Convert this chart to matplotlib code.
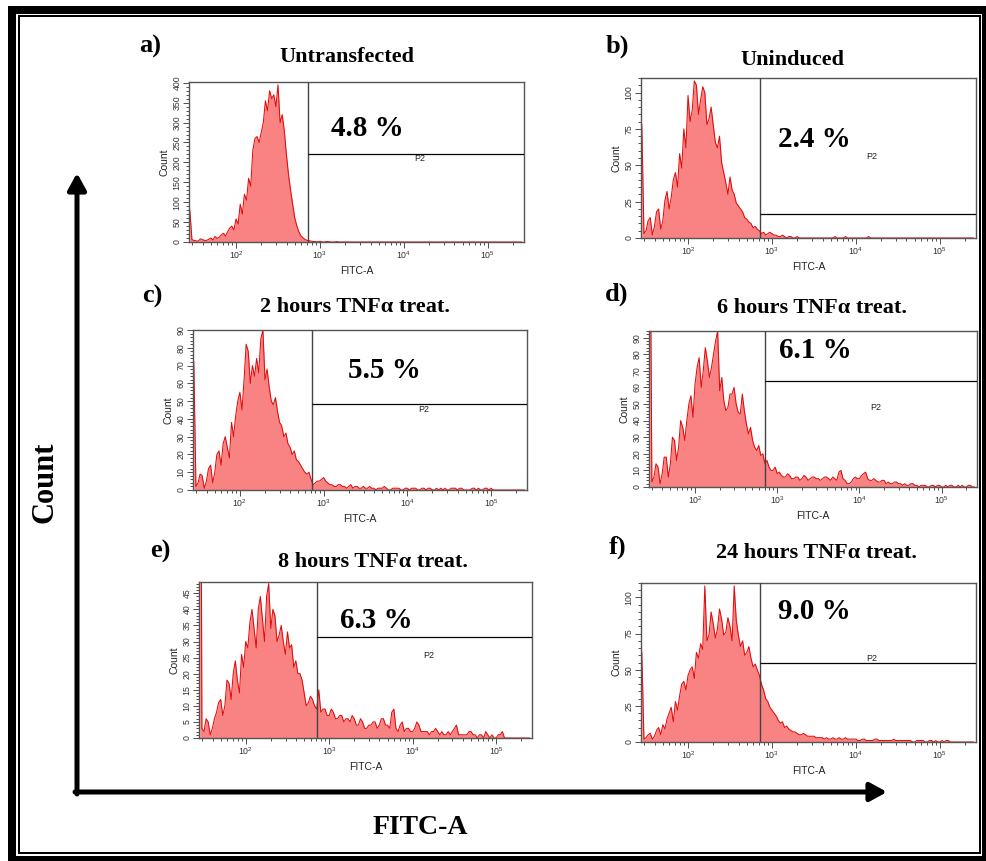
#!/usr/bin/env python3
"""Six FITC-A flow cytometry histograms (TNF-alpha time course) -> out.png."""
import numpy as np
import matplotlib
matplotlib.use("Agg")
import matplotlib.pyplot as plt
from matplotlib.lines import Line2D
from matplotlib.patches import FancyArrowPatch
from matplotlib.ticker import MultipleLocator, LogLocator

W, H = 987, 861
SERIF = "Liberation Serif"
SANS = "Liberation Sans"
FILL = "#f98282"
EDGE = "#e00c0c"

# bin centres on the log10(FITC-A) axis, 0.025 decade wide (1.45 .. 5.40)
LOG_BINS = np.round(np.arange(1.45, 5.4001, 0.025), 3)

# counts per bin (rows of 20 bins = half a decade)
COUNTS_A = [80, 6, 4, 3, 2, 8, 6, 4, 4, 7, 10, 5, 14, 9, 12, 18, 22, 15, 26, 35,
            40, 30, 58, 45, 95, 70, 120, 105, 160, 140, 230, 260, 265, 250, 275, 300, 355, 330, 380, 360,
            370, 340, 395, 300, 320, 280, 220, 170, 130, 95, 60, 40, 25, 15, 10, 6, 4, 3, 2, 1,
            1, 0, 2, 0, 0, 1, 1, 0, 0, 0, 1, 0, 0, 0, 0, 0, 0, 0, 0, 0,
            0, 0, 0, 0, 0, 0, 0, 0, 0, 0, 0, 0, 0, 0, 0, 0, 0, 0, 0, 0,
            0, 0, 0, 0, 0, 0, 0, 0, 0, 0, 0, 0, 0, 0, 0, 0, 0, 0, 0, 0,
            0, 0, 0, 0, 0, 0, 0, 0, 0, 0, 0, 0, 0, 0, 0, 0, 0, 0, 0, 0,
            0, 0, 0, 0, 0, 0, 0, 0, 0, 0, 0, 0, 0, 0, 0, 0, 0, 0, 0]
COUNTS_B = [78, 3, 5, 12, 14, 2, 8, 18, 20, 6, 12, 26, 32, 20, 28, 40, 45, 35, 58, 48,
            75, 62, 98, 80, 88, 108, 105, 85, 95, 104, 100, 78, 82, 90, 78, 66, 62, 70, 52, 45,
            38, 30, 42, 33, 30, 24, 22, 20, 18, 14, 13, 11, 10, 7, 8, 6, 5, 3, 4, 2,
            3, 4, 3, 2, 2, 1, 1, 2, 1, 0, 1, 1, 0, 0, 1, 0, 0, 0, 0, 0,
            0, 0, 0, 0, 0, 0, 0, 0, 0, 0, 0, 0, 1, 0, 0, 0, 0, 1, 0, 0,
            0, 0, 0, 0, 0, 0, 0, 0, 1, 0, 0, 0, 0, 0, 0, 0, 0, 0, 0, 0,
            0, 0, 0, 0, 0, 0, 0, 0, 0, 0, 0, 0, 0, 0, 0, 0, 0, 0, 0, 0,
            0, 0, 0, 0, 0, 0, 0, 0, 0, 0, 0, 0, 0, 0, 0, 0, 0, 0, 0]
COUNTS_C = [72, 2, 4, 9, 8, 1, 5, 12, 14, 4, 10, 20, 22, 14, 26, 30, 24, 18, 38, 30,
            42, 50, 55, 45, 62, 82, 78, 60, 70, 64, 74, 66, 85, 90, 62, 68, 58, 50, 48, 52,
            44, 38, 36, 30, 32, 26, 24, 20, 22, 17, 16, 14, 12, 10, 9, 10, 6, 3, 4, 5,
            5, 6, 7, 5, 4, 3, 3, 2, 2, 3, 3, 2, 2, 1, 2, 3, 1, 2, 2, 1,
            1, 2, 1, 1, 2, 1, 1, 0, 1, 1, 1, 2, 1, 0, 0, 1, 1, 1, 1, 0,
            0, 1, 1, 0, 1, 1, 1, 0, 0, 1, 1, 0, 1, 1, 0, 0, 1, 0, 1, 0,
            1, 0, 0, 1, 1, 1, 0, 1, 1, 0, 0, 0, 0, 1, 1, 0, 1, 0, 0, 1,
            1, 0, 1, 0, 0, 0, 0, 0, 0, 0, 0, 0, 0, 0, 0, 0, 0, 0, 0]
COUNTS_D = [200, 3, 6, 14, 12, 2, 8, 18, 18, 6, 14, 30, 28, 16, 24, 40, 36, 28, 40, 50,
            55, 42, 62, 72, 78, 60, 70, 84, 76, 66, 72, 80, 88, 94, 58, 66, 52, 46, 48, 56,
            56, 60, 50, 45, 44, 56, 46, 38, 32, 36, 28, 24, 22, 25, 19, 20, 14, 16, 12, 10,
            10, 12, 8, 9, 7, 6, 6, 8, 7, 5, 5, 6, 6, 4, 5, 7, 6, 4, 5, 6,
            6, 5, 5, 4, 5, 6, 6, 5, 4, 6, 5, 4, 9, 10, 5, 4, 2, 2, 3, 5,
            6, 5, 5, 7, 8, 9, 5, 4, 4, 5, 4, 3, 3, 4, 4, 2, 3, 2, 2, 3,
            3, 2, 2, 1, 2, 1, 1, 2, 2, 1, 1, 0, 1, 1, 1, 0, 0, 1, 1, 0,
            1, 1, 0, 0, 1, 0, 1, 1, 0, 0, 1, 0, 1, 0, 0, 1, 1, 0, 0]
COUNTS_E = [200, 3, 2, 6, 5, 1, 3, 6, 8, 11, 12, 7, 10, 18, 17, 12, 20, 24, 18, 14,
            26, 22, 30, 28, 36, 40, 34, 28, 40, 44, 37, 30, 44, 48, 34, 40, 38, 30, 32, 35,
            30, 26, 33, 28, 29, 22, 24, 20, 20, 18, 14, 10, 11, 13, 12, 10, 9, 15, 8, 9,
            9, 7, 7, 9, 8, 6, 6, 7, 7, 5, 6, 6, 5, 7, 6, 4, 4, 6, 5, 3,
            3, 4, 4, 5, 5, 3, 4, 6, 6, 4, 4, 3, 8, 9, 3, 2, 4, 5, 2, 3,
            3, 2, 2, 3, 5, 4, 2, 2, 2, 2, 1, 2, 2, 3, 2, 1, 2, 1, 1, 2,
            1, 2, 3, 4, 1, 1, 1, 1, 1, 2, 2, 1, 1, 0, 1, 1, 0, 2, 1, 0,
            1, 0, 0, 1, 1, 2, 0, 0, 0, 0, 0, 0, 0, 0, 0, 0, 0, 0, 0]
COUNTS_F = [62, 2, 3, 5, 6, 2, 4, 8, 10, 5, 12, 9, 16, 20, 24, 14, 28, 22, 32, 40,
            42, 36, 46, 50, 52, 44, 62, 58, 68, 64, 108, 70, 74, 90, 82, 72, 78, 92, 85, 74,
            76, 86, 80, 70, 108, 84, 74, 66, 70, 60, 62, 66, 58, 52, 54, 50, 46, 40, 36, 30,
            28, 24, 22, 20, 18, 15, 13, 14, 10, 11, 9, 8, 7, 7, 6, 5, 5, 6, 5, 4,
            4, 4, 4, 3, 3, 3, 3, 2, 3, 2, 2, 3, 2, 2, 3, 2, 2, 3, 2, 2,
            2, 2, 2, 1, 1, 2, 2, 1, 1, 1, 1, 2, 2, 1, 1, 1, 1, 1, 1, 1,
            2, 1, 1, 1, 1, 1, 1, 1, 1, 0, 0, 1, 1, 1, 1, 0, 0, 1, 1, 0,
            1, 0, 0, 1, 0, 1, 1, 0, 0, 0, 0, 0, 0, 0, 0, 0, 0, 0, 0]

TAGS = ["a)", "b)", "c)", "d)", "e)", "f)"]
TITLES = ["Untransfected", "Uninduced", "2 hours TNF\u03b1 treat.",
          "6 hours TNF\u03b1 treat.", "8 hours TNF\u03b1 treat.",
          "24 hours TNF\u03b1 treat."]
PERCENTS = ["4.8 %", "2.4 %", "5.5 %", "6.1 %", "6.3 %", "9.0 %"]
GATE_LOG = 2.857                      # left edge of the P2 gate (log10)
GATE_LEVEL = [220, 16.5, 48.5, 64, 31.5, 55]
Y_MAX = [402, 110, 90, 94, 48.5, 110]
Y_STEP = [50, 25, 10, 10, 5, 25]

# layout in pixels: axes (left, top, right, bottom), title / tag centres,
# position of the percentage and of the P2 label (log10 x, count)
AXES_PX = [(189, 82, 524, 242), (641, 78, 976, 238), (193, 330, 527, 490),
           (649, 331, 977, 487), (199, 582, 532, 738), (641, 583, 976, 742)]
TITLE_PX = [(347, 57), (792, 60), (355, 307), (812, 308), (373, 562), (817, 553)]
TAG_PX = [(150, 46), (617, 46), (152, 296), (617, 294), (160, 551), (618, 547)]
PCT_POS = [(3.56, 286), (3.50, 68), (3.73, 67), (3.46, 82), (3.56, 36.6), (3.50, 90)]
P2_POS = [(4.19, 210), (4.19, 56), (4.20, 45), (4.20, 48), (4.19, 25.6), (4.19, 57.6)]


def fig_box(l, t, r, b):
    return [l / W, 1 - b / H, (r - l) / W, (b - t) / H]


def fig_line(fig, xs, ys, lw_px):
    fig.add_artist(Line2D([x / W for x in xs], [1 - y / H for y in ys],
                          transform=fig.transFigure, color="black",
                          lw=lw_px * 0.72, solid_capstyle="projecting"))


def main():
    plt.rcParams["font.family"] = [SANS, "DejaVu Sans"]
    fig = plt.figure(figsize=(W / 100, H / 100), dpi=100)

    counts_all = [COUNTS_A, COUNTS_B, COUNTS_C, COUNTS_D, COUNTS_E, COUNTS_F]
    xmin, xmax = 10 ** 1.44, 10 ** 5.43
    gate_x = 10 ** GATE_LOG

    for i, counts in enumerate(counts_all):
        n = min(len(counts), len(LOG_BINS))
        x = 10 ** LOG_BINS[:n]
        y = np.asarray(counts[:n], dtype=float)

        ax = fig.add_axes(fig_box(*AXES_PX[i]))
        ax.fill_between(x, y, 0, color=FILL, lw=0, zorder=1)
        ax.plot(x, y, color=EDGE, lw=0.75, zorder=2)
        ax.set_xscale("log")
        ax.set_xlim(xmin, xmax)
        ax.set_ylim(0, Y_MAX[i])

        ax.axvline(gate_x, color="#444444", lw=1.0, zorder=3)
        ax.hlines(GATE_LEVEL[i], gate_x, xmax, color="black", lw=0.9, zorder=3)

        px, py = PCT_POS[i]
        ax.text(10 ** px, py, PERCENTS[i], family=SERIF, fontweight="bold",
                fontsize=21, ha="center", va="center", zorder=4)
        qx, qy = P2_POS[i]
        ax.text(10 ** qx, qy, "P2", fontsize=6.5, ha="center", va="center",
                color="#222222", zorder=4)

        ax.xaxis.set_major_locator(LogLocator(base=10, numticks=10))
        ax.xaxis.set_minor_locator(LogLocator(base=10, subs=np.arange(2, 10),
                                              numticks=20))
        ax.yaxis.set_major_locator(MultipleLocator(Y_STEP[i]))
        ax.yaxis.set_minor_locator(MultipleLocator(Y_STEP[i] / 5))
        ax.tick_params(which="both", direction="out", colors="#333333",
                       width=0.6, labelsize=6.3, pad=1.5)
        ax.tick_params(which="major", length=4)
        ax.tick_params(which="minor", length=2.2)
        ax.tick_params(axis="y", labelrotation=90)
        for lab in ax.get_yticklabels():
            lab.set_va("center")
        for s in ax.spines.values():
            s.set_color("#555555")
            s.set_linewidth(1.0)
        ax.set_xlabel("FITC-A", fontsize=7.5, labelpad=3, color="#222222")
        ax.set_ylabel("Count", fontsize=7.5, labelpad=2, color="#222222")

        tx, ty = TITLE_PX[i]
        fig.text(tx / W, 1 - ty / H, TITLES[i], family=SERIF, fontweight="bold",
                 fontsize=16, ha="center", va="center")
        gx, gy = TAG_PX[i]
        fig.text(gx / W, 1 - gy / H, TAGS[i], family=SERIF, fontweight="bold",
                 fontsize=19, ha="center", va="center")

    # overall axis arrows
    arrow = "-|>,head_length=10,head_width=5.5"
    fig.add_artist(FancyArrowPatch((77 / W, 1 - 794 / H), (77 / W, 1 - 173 / H),
                                   transform=fig.transFigure, arrowstyle=arrow,
                                   mutation_scale=1, lw=3.6, color="black",
                                   shrinkA=0, shrinkB=0))
    fig.add_artist(FancyArrowPatch((75 / W, 1 - 792 / H), (887 / W, 1 - 792 / H),
                                   transform=fig.transFigure, arrowstyle=arrow,
                                   mutation_scale=1, lw=3.6, color="black",
                                   shrinkA=0, shrinkB=0))
    fig.text(45 / W, 1 - 482 / H, "Count", family=SERIF, fontweight="bold",
             fontsize=22, rotation=90, ha="center", va="center")
    fig.text(420 / W, 1 - 828 / H, "FITC-A", family=SERIF, fontweight="bold",
             fontsize=20, ha="center", va="center")

    # double frame
    fig_line(fig, [12, 12], [10, 857.5], 8)
    fig_line(fig, [12, 984.5], [10, 10], 8)
    fig_line(fig, [984.5, 984.5], [10, 857.5], 5)
    fig_line(fig, [12, 984.5], [857.5, 857.5], 5)
    fig_line(fig, [18.7, 18.7], [16.3, 853], 2)
    fig_line(fig, [18.7, 980], [16.3, 16.3], 2)
    fig_line(fig, [980, 980], [16.3, 853], 2)
    fig_line(fig, [18.7, 980], [853, 853], 2)

    fig.savefig("out.png", dpi=100)


if __name__ == "__main__":
    main()
